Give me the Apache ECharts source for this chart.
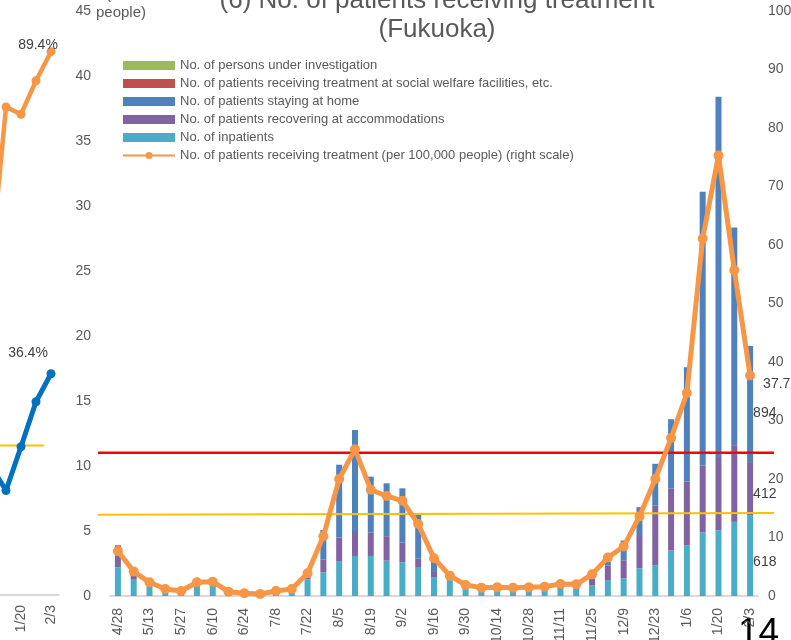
<!DOCTYPE html>
<html><head><meta charset="utf-8">
<script src="https://cdn.jsdelivr.net/npm/echarts@6/dist/echarts.min.js"></script>
<style>html,body{margin:0;padding:0;background:#fff;overflow:hidden}#c{width:791px;height:640px}</style>
</head><body><div id="c"></div>
<script>
// ---- main chart data (left scale in units of 100 people) ----
const categories = ['4/28','5/6','5/13','5/20','5/27','6/3','6/10','6/17','6/24','7/1','7/8','7/15','7/22','7/29','8/5','8/12','8/19','8/26','9/2','9/9','9/16','9/23','9/30','10/7','10/14','10/21','10/28','11/4','11/11','11/18','11/25','12/2','12/9','12/16','12/23','12/30','1/6','1/13','1/20','1/27','2/3'];
const inpatients     = [2.2,1.25,0.9,0.45,0.3,0.95,0.85,0.2,0.15,0.1,0.3,0.55,1.28,1.82,2.69,3.08,3.08,2.72,2.59,2.23,1.45,1.2,0.65,0.5,0.5,0.45,0.5,0.55,0.75,0.7,0.8,1.18,1.35,2.13,2.37,3.5,3.9,4.88,5.06,5.7,6.18];
const accommodations = [0.9,0.45,0.15,0.05,0,0,0,0,0,0,0,0,0.22,1.0,1.81,1.92,1.79,1.88,1.51,0.64,0.4,0.17,0.06,0,0,0,0,0,0.05,0.1,0.57,1.15,1.4,2.56,4.6,4.75,4.9,5.17,5.64,5.9,4.12];
const home           = [0.6,0.43,0.14,0.11,0.14,0.24,0.4,0.18,0.08,0.07,0.14,0.06,0.48,2.26,5.6,7.77,4.31,4.07,4.18,3.4,1.3,0.4,0.25,0.23,0.25,0.28,0.25,0.27,0.25,0.22,0.52,0.82,1.52,2.15,3.2,5.35,8.8,21.05,27.7,16.75,8.94];
const welfare        = [0.2,0,0,0,0,0,0,0,0,0,0,0,0,0,0,0,0,0,0,0,0,0,0,0,0,0,0,0,0,0,0,0,0,0,0,0,0,0,0,0,0];
const investigation  = [0,0,0,0,0,0,0,0,0,0,0,0,0,0,0,0,0,0,0,0,0,0,0,0,0,0,0,0,0,0,0,0,0,0,0,0,0,0,0,0,0];
const per100k        = [7.7,4.17,2.34,1.2,0.86,2.34,2.45,0.74,0.46,0.34,0.86,1.2,3.88,10.2,20.0,25.1,18.15,17.1,16.27,12.3,6.45,3.48,1.88,1.43,1.48,1.43,1.48,1.6,2.05,2.0,3.7,6.57,8.45,13.6,20.0,27.0,34.7,61.1,75.3,55.7,37.7];
const redLine        = [24.5, 24.5];
const yellowLine     = [13.9, 14.2];

// ---- neighbouring panel (cropped) ----
const prevCategories = ['1/6','1/13','1/20','1/27','2/3'];
const prevOrange     = [54.3, 80.3, 79.1, 84.6, 89.4];
const prevBlue       = [21.2, 17.2, 24.4, 31.8, 36.4];
const prevYellow     = [24.6, 24.6];
const prevYellowSpan = [-0.5, 3.53];

const names = [
  'No. of persons under investigation',
  'No. of patients receiving treatment at social welfare facilities, etc.',
  'No. of patients staying at home',
  'No. of patients recovering at accommodations',
  'No. of inpatients',
  'No. of patients receiving treatment (per 100,000 people) (right scale)'
];

const FONT = 'Liberation Sans, Arial, sans-serif';
const GREY = '#595959';
const last = categories.length - 1;

function barSeries(name, data, color, offY) {
  return {
    name, type: 'bar', stack: 'total', xAxisIndex: 0, yAxisIndex: 0,
    data, barWidth: 6, itemStyle: {color}, z: 2,
    label: {
      show: offY !== null, position: 'right', offset: [-5, offY || 0],
      color: '#404040', fontSize: 14, fontFamily: FONT,
      formatter: p => p.dataIndex === last ? String(Math.round(p.value * 100)) : ''
    }
  };
}

const chart = echarts.init(document.getElementById('c'), null, {renderer: 'canvas'});
chart.setOption({
  animation: false,
  backgroundColor: '#fff',
  textStyle: {fontFamily: FONT},
  grid: [
    {left: 110, right: 33, top: 11, bottom: 44, outerBoundsMode: 'none', containLabel: false},
    {left: 98, right: 17, top: 11, bottom: 44, outerBoundsMode: 'none', containLabel: false},
    {left: -16.5, right: 732.5, top: 0, bottom: 45, outerBoundsMode: 'none', containLabel: false}
  ],
  xAxis: [
    {type: 'category', gridIndex: 0, data: categories, boundaryGap: true,
     axisLine: {lineStyle: {color: '#d9d9d9', width: 2}}, axisTick: {show: false},
     axisLabel: {rotate: 90, interval: 1, fontSize: 14, color: GREY, margin: 12, fontFamily: FONT}},
    {type: 'value', gridIndex: 1, min: 0, max: 1, show: false},
    {type: 'category', gridIndex: 2, data: prevCategories, boundaryGap: true,
     axisLine: {lineStyle: {color: '#d9d9d9', width: 2}}, axisTick: {show: false},
     axisLabel: {rotate: 90, interval: 1, fontSize: 14, color: GREY, margin: 10, fontFamily: FONT}},
    {type: 'value', gridIndex: 2, min: -0.5, max: 4.5, show: false}
  ],
  yAxis: [
    {type: 'value', gridIndex: 0, min: 0, max: 45, interval: 5, position: 'left',
     splitLine: {show: false}, axisLine: {show: false}, axisTick: {show: false},
     axisLabel: {fontSize: 14, color: GREY, margin: 19, fontFamily: FONT}},
    {type: 'value', gridIndex: 0, min: 0, max: 100, interval: 10, position: 'right',
     splitLine: {show: false}, axisLine: {show: false}, axisTick: {show: false},
     axisLabel: {fontSize: 14, color: GREY, margin: 10, fontFamily: FONT}},
    {type: 'value', gridIndex: 1, min: 0, max: 100, show: false},
    {type: 'value', gridIndex: 2, min: 0, max: 97.9, show: false}
  ],
  legend: {
    orient: 'vertical', left: 122, top: 58.5, padding: 0, itemGap: 4,
    itemWidth: 52, itemHeight: 9, selectedMode: false,
    textStyle: {fontSize: 13, color: GREY, lineHeight: 14, fontFamily: FONT},
    data: [
      {name: names[0], icon: 'rect'},
      {name: names[1], icon: 'rect'},
      {name: names[2], icon: 'rect'},
      {name: names[3], icon: 'rect'},
      {name: names[4], icon: 'rect'},
      {name: names[5]}
    ]
  },
  graphic: [
    {type: 'text', x: 437, y: 15, silent: true,
     style: {text: '(6) No. of patients receiving treatment\n(Fukuoka)', textAlign: 'center', textVerticalAlign: 'middle',
             font: '26px ' + FONT, lineHeight: 29, fill: GREY}},
    {type: 'text', x: 121, y: 4, silent: true,
     style: {text: '(100\npeople)', textAlign: 'center', textVerticalAlign: 'middle',
             font: '15px ' + FONT, lineHeight: 18, fill: GREY}},
    {type: 'text', x: 738, y: 615, silent: true,
     style: {text: '14', textAlign: 'left', textVerticalAlign: 'top', font: '37px ' + FONT, fill: '#000'}}
  ],
  series: [
    barSeries(names[4], inpatients, '#4BACC6', 6),
    barSeries(names[3], accommodations, '#8064A2', 5),
    barSeries(names[2], home, '#4F81BD', 9),
    barSeries(names[1], welfare, '#C0504D', null),
    barSeries(names[0], investigation, '#9BBB59', null),
    {type: 'line', xAxisIndex: 1, yAxisIndex: 2, silent: true, symbol: 'none', z: 3,
     data: [[0, redLine[0]], [1, redLine[1]]], lineStyle: {color: '#FF0000', width: 2.5}},
    {type: 'line', xAxisIndex: 1, yAxisIndex: 2, silent: true, symbol: 'none', z: 3,
     data: [[0, yellowLine[0]], [1, yellowLine[1]]], lineStyle: {color: '#FFC000', width: 2}},
    {name: names[5], type: 'line', xAxisIndex: 0, yAxisIndex: 1, data: per100k, z: 5,
     symbol: 'circle', symbolSize: 10, color: '#F79646',
     lineStyle: {color: '#F79646', width: 5}, itemStyle: {color: '#F79646'},
     label: {show: true, position: 'right', offset: [3, 9], color: '#404040', fontSize: 14, fontFamily: FONT,
             formatter: p => p.dataIndex === last ? p.value.toFixed(1) : ''}},
    // neighbouring panel
    {type: 'line', xAxisIndex: 3, yAxisIndex: 3, silent: true, symbol: 'none', z: 3,
     data: [[prevYellowSpan[0], prevYellow[0]], [prevYellowSpan[1], prevYellow[1]]], lineStyle: {color: '#FFC000', width: 2}},
    {type: 'line', xAxisIndex: 2, yAxisIndex: 3, data: prevOrange, z: 5, silent: true,
     symbol: 'circle', symbolSize: 9, lineStyle: {color: '#F79646', width: 4.5}, itemStyle: {color: '#F79646'},
     label: {show: true, position: 'top', offset: [-13, 10], color: '#404040', fontSize: 14, fontFamily: FONT,
             formatter: p => p.dataIndex === prevCategories.length - 1 ? p.value.toFixed(1) + '%' : ''}},
    {type: 'line', xAxisIndex: 2, yAxisIndex: 3, data: prevBlue, z: 5, silent: true,
     symbol: 'circle', symbolSize: 9, lineStyle: {color: '#0070C0', width: 5}, itemStyle: {color: '#0070C0'},
     label: {show: true, position: 'top', offset: [-23, -4], color: '#404040', fontSize: 14, fontFamily: FONT,
             formatter: p => p.dataIndex === prevCategories.length - 1 ? p.value.toFixed(1) + '%' : ''}}
  ]
});
</script></body></html>
